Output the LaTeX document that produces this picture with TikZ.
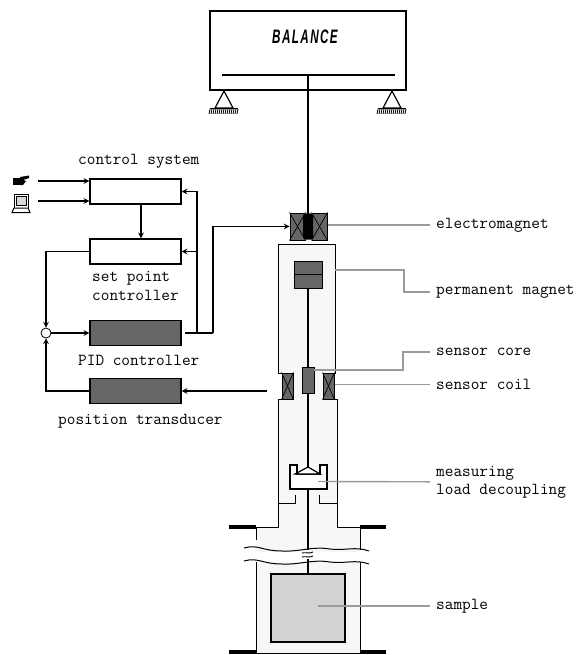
\documentclass[tikz,border=0pt]{standalone}
\usepackage{fontspec}
\setsansfont{Liberation Sans}
\usetikzlibrary{arrows}
\tikzset{
    ctrlbox/.style={rectangle, draw, line width=1.4pt, inner sep=0pt, minimum width=91pt, minimum height=25pt, fill=white},
    darkbox/.style={ctrlbox, fill=darkpart},
    coil/.style={rectangle, draw, line width=1pt, inner sep=0pt, fill=darkpart},
    lbl/.style={inner sep=0pt, anchor=west, align=left, font=\fontsize{16.8}{18}\selectfont\ttfamily\addfontfeature{FakeBold=1.6}},
    leader/.style={draw=leadgray, line width=1.4pt, shorten >=6pt},
    wall/.style={line width=1pt},
    link/.style={line width=1.5pt},
    rod/.style={line width=2.2pt},
    bar/.style={line width=4pt}
}
\definecolor{darkpart}{HTML}{666666}
\definecolor{leadgray}{HTML}{9A9A9A}
\definecolor{tubefill}{HTML}{F7F7F7}
\definecolor{samplefill}{HTML}{D2D2D2}
\begin{document}
\begin{tikzpicture}[x=1pt, y=-1pt]
    \useasboundingbox (0, 0) rectangle (580, 655);
    % balance
    \node[rectangle, draw, line width=1.5pt, minimum width=196pt, minimum height=79pt, inner sep=0pt] (balance) at (308, 50.5) {};
    \node[inner sep=0pt, xscale=0.6, transform shape, font=\fontsize{19.5}{20}\selectfont\sffamily\bfseries\itshape\addfontfeature{LetterSpace=12}] (title) at (305, 37) {BALANCE};
    \coordinate (beamleft) at (222, 75);
    \coordinate (beamright) at (395, 75);
    \coordinate (beammid) at (308, 75);
    \draw[line width=2pt] (beamleft) -- (beamright);
    \foreach \x/\name in {224/left, 392/right} {
        \draw[line width=1.2pt] (\x, 91) -- (\x-9, 108) -- (\x+9, 108) -- cycle;
        \draw[line width=1pt] (\x-14, 108.5) -- (\x+14, 108.5);
        \foreach \i in {0, 2, ..., 28}
            \draw[line width=0.8pt] (\x-14+\i, 109) -- (\x-15+\i, 114);
    }
    % tube
    \draw[wall, fill=tubefill] (278, 244) -- (335, 244) -- (335, 373) -- (334, 373) -- (334, 399) -- (337, 399) -- (337, 527) -- (360, 527) -- (360, 549) -- (256, 549) -- (256, 527) -- (278, 527) -- (278, 399) -- (282, 399) -- (282, 373) -- (278, 373) -- cycle;
    \fill[tubefill] (256, 540) rectangle (360, 552);
    \draw[wall, fill=tubefill] (256, 562) -- (256, 653) -- (360, 653) -- (360, 562);
    \draw[wall] (244, 548) .. controls (258, 544) and (262, 551) .. (282, 551) .. controls (300, 552) and (312, 546) .. (330, 549) .. controls (345, 551) and (355, 546) .. (369, 551);
    \fill[white] (250, 552.5) rectangle (366, 558);
    \draw[wall] (244, 561) .. controls (258, 557) and (262, 564) .. (282, 564) .. controls (300, 565) and (312, 559) .. (330, 562) .. controls (345, 564) and (355, 559) .. (369, 564);
    \draw[wall] (278, 503) -- (295, 503) -- (295, 495);
    \draw[wall] (337, 503) -- (319, 503) -- (319, 495);
    \draw[bar] (229, 527) -- (256, 527);
    \draw[bar] (360, 527) -- (386, 527);
    \draw[bar] (229, 652) -- (256, 652);
    \draw[bar] (360, 652) -- (386, 652);
    % electromagnet
    \node[coil, minimum width=15pt, minimum height=27pt] (emleft) at (297.5, 226.5) {};
    \node[coil, minimum width=15pt, minimum height=27pt] (emright) at (319.5, 226.5) {};
    \node[rectangle, fill=darkpart, inner sep=0pt, minimum width=8pt, minimum height=27pt] (emgap) at (308.5, 226.5) {};
    \node[rectangle, rounded corners=2pt, fill=black, inner sep=0pt, minimum width=10pt, minimum height=25pt] (emcore) at (308, 226.5) {};
    % parts on the rod
    \node[rectangle, draw, line width=1pt, fill=darkpart, inner sep=0pt, minimum width=28pt, minimum height=27pt] (magnet) at (308, 274.5) {};
    \node[rectangle, draw, line width=1pt, fill=darkpart, inner sep=0pt, minimum width=12pt, minimum height=26pt] (core) at (308, 380) {};
    \node[coil, minimum width=11pt, minimum height=26pt] (coilleft) at (287.5, 386) {};
    \node[coil, minimum width=11pt, minimum height=26pt] (coilright) at (328.5, 386) {};
    \foreach \name in {emleft, emright, coilleft, coilright} {
        \draw[line width=0.7pt] (\name.north west) -- (\name.south east);
        \draw[line width=0.7pt] (\name.north east) -- (\name.south west);
    }
    \draw[line width=0.8pt] (magnet.west) -- (magnet.east);
    \node[rectangle, draw, line width=1.8pt, fill=samplefill, inner sep=0pt, minimum width=74pt, minimum height=68pt] (sample) at (308, 608) {};
    % rod
    \coordinate (cupbottom) at (308, 489);
    \coordinate (apex) at (308, 467);
    \coordinate (breaktop) at (308, 550);
    \coordinate (breakbottom) at (308, 559);
    \draw[line width=1.5pt] (beammid) -- (emcore.north);
    \draw[rod] (magnet.south) -- (core.north);
    \draw[rod] (core.south) -- (apex);
    \draw[rod] (cupbottom) -- (breaktop);
    \draw[rod] (breakbottom) -- (sample.north);
    \draw[line width=0.9pt] (302, 553) .. controls (305, 552) and (310, 554) .. (313, 552);
    \draw[line width=0.9pt] (302, 557) .. controls (305, 556) and (310, 558) .. (313, 556);
    % decoupling cup
    \draw[line width=1.2pt, fill=white] (290, 465) -- (297, 465) -- (297, 474) -- (320, 474) -- (320, 465) -- (327, 465) -- (327, 489) -- (290, 489) -- cycle;
    \draw[line width=1.2pt, fill=white] (apex) -- (295, 474) -- (320, 474) -- cycle;
    % control side
    \node[ctrlbox] (control) at (135.5, 191.5) {};
    \node[ctrlbox] (setpoint) at (135.5, 251.5) {};
    \node[darkbox] (pid) at (135.5, 333) {};
    \node[darkbox] (transducer) at (135.5, 391) {};
    \node[circle, draw, line width=0.8pt, fill=white, inner sep=0pt, minimum size=10pt] (sum) at (46, 333) {};
    \coordinate (handout) at (38, 181);
    \coordinate (laptopout) at (38, 201);
    \coordinate (pidout) at (185, 333);
    \coordinate (joint) at (197, 333);
    \coordinate (turn) at (213, 333);
    \coordinate (coilout) at (267, 391);
    \draw[link, -stealth] (handout) -- (handout -| control.west);
    \draw[link, -stealth] (laptopout) -- (laptopout -| control.west);
    \draw[link, -stealth] ([xshift=5.5pt]control.south) -- ([xshift=5.5pt]setpoint.north);
    \draw[link, -stealth] (setpoint) -| (sum);
    \draw[link, -stealth] (transducer) -| (sum);
    \draw[link, -stealth] (sum) -- (pid);
    \draw[link] (pidout) -- (turn);
    \draw[link, -stealth] (turn) |- (emleft);
    \draw[link, -stealth] (joint) |- (control);
    \draw[link, -stealth] (joint |- setpoint) -- (setpoint);
    \draw[link, -stealth] (coilout) -- (transducer);
    % hand and laptop
    \fill (13, 178) rectangle (20, 185);
    \fill (20, 177) -- (29, 175.5) -- (29, 178) -- (23, 180) -- (26, 181) -- (23, 185) -- (20, 185) -- cycle;
    \draw[line width=1pt, fill=white] (14, 194) rectangle (28, 208);
    \draw[line width=0.7pt, fill=leadgray!40] (16, 196) rectangle (26, 205);
    \draw[line width=1pt, fill=white] (14, 208) -- (28, 208) -- (30, 212.5) -- (12, 212.5) -- cycle;
    % labels
    \node[lbl] (lblcontrol) at (78, 161) {control system};
    \node[lbl] (lblsetpoint) at (92, 286) {set point\\controller};
    \node[lbl] (lblpid) at (78, 360) {PID controller};
    \node[lbl] (lbltransducer) at (58, 421) {position transducer};
    \node[lbl] (lblem) at (436, 225) {electromagnet};
    \node[lbl] (lblmagnet) at (436, 292) {permanent magnet};
    \node[lbl] (lblcore) at (436, 352) {sensor core};
    \node[lbl] (lblcoil) at (436, 384.5) {sensor coil};
    \node[lbl] (lblcup) at (436, 482) {measuring\\load decoupling};
    \node[lbl] (lblsample) at (436, 606) {sample};
    % leaders
    \coordinate (magnetbend) at (404, 270);
    \coordinate (corebend) at (403, 370);
    \coordinate (cupin) at (318, 481.5);
    \coordinate (samplein) at (318, 606);
    \coordinate (tubeout) at (335, 270);
    \coordinate (corein) at (314, 370);
    \draw[leader] (emright.east |- lblem) -- (lblem);
    \draw[leader] (tubeout) -- (magnetbend) |- (lblmagnet);
    \draw[leader] (corein) -- (corebend) |- (lblcore);
    \draw[leader] (coilright.east |- lblcoil) -- (lblcoil);
    \draw[leader] (cupin) -- (lblcup);
    \draw[leader] (samplein) -- (lblsample);
\end{tikzpicture}
\end{document}
